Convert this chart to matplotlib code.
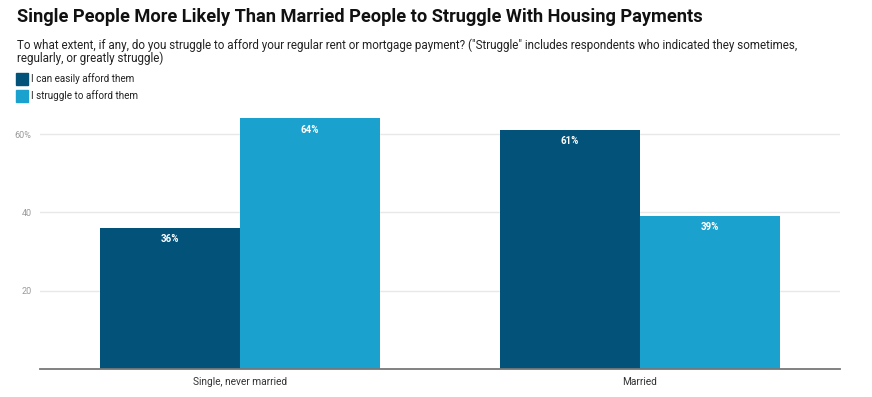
import matplotlib.pyplot as plt
import matplotlib.patches as mpatches
import numpy as np

plt.rcParams['font.family'] = ['Roboto', 'DejaVu Sans']

categories = ['Single, never married', 'Married']
series = ['I can easily afford them', 'I struggle to afford them']
easily = [36, 61]
struggle = [64, 39]
colors = ['#02527a', '#1aa1ce']
yticks = [20, 40, 60]
ytick_labels = ['20', '40', '60%']

W, H = 872, 397
fig = plt.figure(figsize=(W / 100, H / 100), dpi=100)

# axes in pixel coords: left 40, right 840, bottom 369, top 111
ax = fig.add_axes([40 / W, 1 - 369 / H, 800 / W, (369 - 111) / H])

x = np.arange(len(categories))
width = 0.35
for i, (vals, c) in enumerate(zip([easily, struggle], colors)):
    pos = x - width / 2 + i * width
    bars = ax.bar(pos, vals, width, color=c, zorder=2)
    for b, v in zip(bars, vals):
        ax.annotate(f'{v}%', (b.get_x() + b.get_width() / 2, v),
                    xytext=(0, -8), textcoords='offset points',
                    ha='center', va='center', color='white',
                    fontsize=7, fontweight='bold')

ax.set_xlim(-0.5, 1.5)
ax.set_ylim(0, 65.9)
ax.set_yticks(yticks)
ax.set_yticklabels(ytick_labels)
ax.set_xticks(x)
ax.set_xticklabels(categories)
ax.grid(axis='y', color='#e8e8e8', linewidth=1, zorder=0)
for s in ['top', 'right', 'left']:
    ax.spines[s].set_visible(False)
ax.spines['bottom'].set_color('#777777')
ax.spines['bottom'].set_linewidth(1.3)
ax.spines['bottom'].set_zorder(3)
ax.tick_params(axis='y', length=0, labelsize=6.5, labelcolor='#9a9a9a', pad=6)
ax.tick_params(axis='x', length=0, labelsize=7.3, labelcolor='#333333', pad=6)

fig.text(17 / W, 1 - 17 / H, 'Single People More Likely Than Married People to Struggle With Housing Payments',
         fontsize=13.15, fontweight='bold', color='#111111', va='center', ha='left')
fig.text(17 / W, 1 - 45 / H,
         'To what extent, if any, do you struggle to afford your regular rent or mortgage payment? ("Struggle" includes respondents who indicated they sometimes,',
         fontsize=8.4, color='#222222', va='center', ha='left')
fig.text(17 / W, 1 - 58 / H, 'regularly, or greatly struggle)',
         fontsize=8.4, color='#222222', va='center', ha='left')

for j, (lab, c) in enumerate(zip(series, colors)):
    yc = 79 + j * 17
    fig.patches.append(mpatches.Rectangle((16 / W, 1 - (yc + 6) / H), 12 / W, 12 / H,
                                          transform=fig.transFigure, color=c))
    fig.text(31 / W, 1 - yc / H, lab, fontsize=7.1, color='#222222', va='center', ha='left')

fig.savefig('out.png', dpi=100)
